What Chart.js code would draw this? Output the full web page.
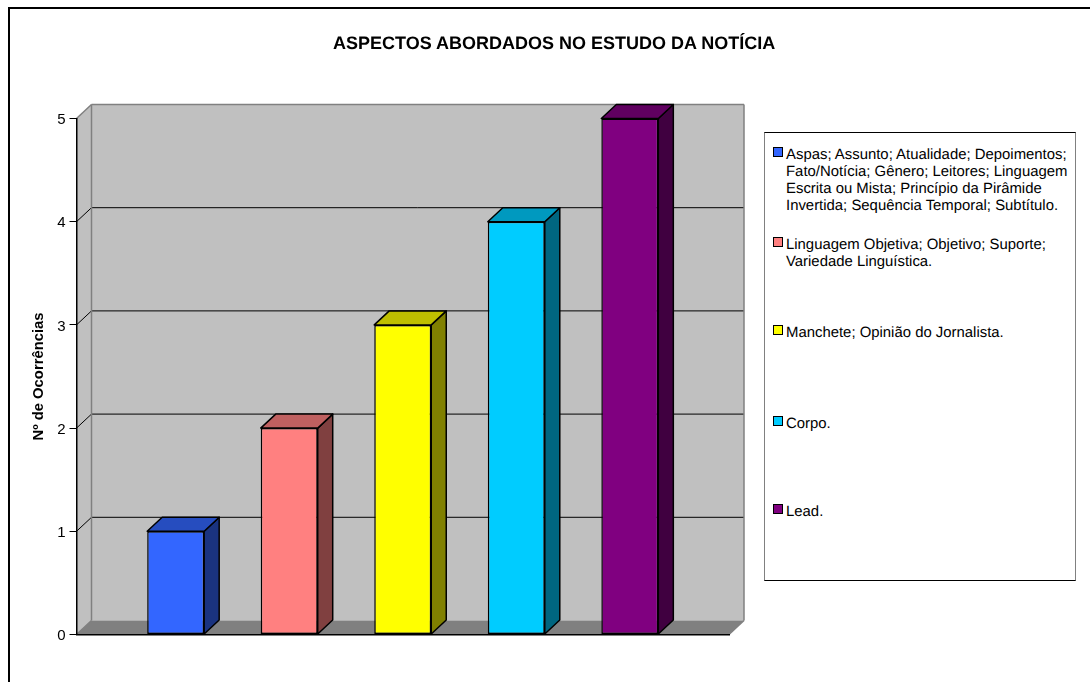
<!DOCTYPE html>
<html>
<head>
<meta charset="utf-8">
<style>
  html, body { margin: 0; padding: 0; background: #fff; overflow: hidden; }
  #wrap { position: relative; width: 1090px; height: 682px; font-family: "Liberation Sans", Arial, sans-serif; color: #000; text-rendering: geometricPrecision; }
  #frame { position: absolute; left: 8px; top: 7px; right: 0; bottom: 0; border-left: 2px solid #000; border-top: 2px solid #000; }
  canvas { position: absolute; left: 0; top: 0; }
  #title { position: absolute; left: 333px; top: 33px; font-size: 18px; font-weight: bold; white-space: nowrap; }
  #legend { position: absolute; left: 764px; top: 132px; width: 310px; height: 447px; border: 1px solid #000; border-right-color: #808080; border-left-color: #808080; background: #fff; }
  .swatch { position: absolute; left: 8px; width: 8px; height: 8px; border: 1px solid #000; }
  .item { position: absolute; left: 21px; font-size: 14.9px; line-height: 17px; white-space: nowrap; }
</style>
</head>
<body>
<div id="wrap">
  <div id="frame"></div>
  <canvas id="chart" width="1090" height="682"></canvas>
  <div id="title"></div>
  <div id="legend"></div>
</div>
<script src="https://cdn.jsdelivr.net/npm/chart.js@4"></script>
<script>
const chartTitle = "ASPECTOS ABORDADOS NO ESTUDO DA NOTÍCIA";
const axisTitle = "Nº de Ocorrências";
const categories = [""];
const seriesValues = [1, 2, 3, 4, 5];
const seriesLines = [
  ["Aspas; Assunto; Atualidade; Depoimentos;", "Fato/Notícia; Gênero; Leitores; Linguagem", "Escrita ou Mista; Princípio da Pirâmide", "Invertida; Sequência Temporal; Subtítulo."],
  ["Linguagem Objetiva; Objetivo; Suporte;", "Variedade Linguística."],
  ["Manchete; Opinião do Jornalista."],
  ["Corpo."],
  ["Lead."]
];
const seriesColors = ["#3366FF", "#FF8080", "#FFFF00", "#00CCFF", "#800080"];
const legendTops = [12, 102, 190, 281, 369];

const depthX = 15;
const depthY = 14;
const wallGrey = "#C0C0C0";
const edgeGrey = "#808080";

function shade(hex, f) {
  const n = parseInt(hex.slice(1), 16);
  const r = Math.round((n >> 16 & 255) * f);
  const g = Math.round((n >> 8 & 255) * f);
  const b = Math.round((n & 255) * f);
  return `rgb(${r},${g},${b})`;
}

function poly(ctx, pts, fill, stroke, lw) {
  ctx.beginPath();
  pts.forEach((p, i) => (i ? ctx.lineTo(p[0], p[1]) : ctx.moveTo(p[0], p[1])));
  ctx.closePath();
  ctx.fillStyle = fill;
  ctx.fill();
  if (stroke) {
    ctx.strokeStyle = stroke;
    ctx.lineWidth = lw;
    ctx.stroke();
  }
}

function seg(ctx, x1, y1, x2, y2, color, lw) {
  ctx.beginPath();
  ctx.moveTo(x1, y1);
  ctx.lineTo(x2, y2);
  ctx.strokeStyle = color;
  ctx.lineWidth = lw;
  ctx.stroke();
}

// back wall, left wall and floor, placed from the chart's own scales
const wallsPlugin = {
  id: "walls",
  beforeDraw(chart) {
    const { ctx, chartArea: a, scales } = chart;
    const y = scales.y;
    ctx.save();
    poly(ctx, [[a.left + depthX, a.top - depthY], [a.right + depthX, a.top - depthY], [a.right + depthX, a.bottom - depthY], [a.left + depthX, a.bottom - depthY]], wallGrey);
    poly(ctx, [[a.left, a.top], [a.left + depthX, a.top - depthY], [a.left + depthX, a.bottom - depthY], [a.left, a.bottom]], wallGrey);
    poly(ctx, [[a.left, a.bottom], [a.left + depthX, a.bottom - depthY], [a.right + depthX, a.bottom - depthY], [a.right, a.bottom]], edgeGrey);
    y.ticks.forEach(t => {
      if (t.value === y.min || t.value === y.max) return;
      const py = y.getPixelForValue(t.value);
      seg(ctx, a.left, py, a.left + depthX, py - depthY, "#000", 1);
      seg(ctx, a.left + depthX, py - depthY, a.right + depthX, py - depthY, "#000", 1);
    });
    seg(ctx, a.left, a.top, a.left + depthX, a.top - depthY, edgeGrey, 1.5);
    seg(ctx, a.left + depthX, a.top - depthY, a.right + depthX, a.top - depthY, edgeGrey, 1.5);
    seg(ctx, a.left + depthX, a.top - depthY, a.left + depthX, a.bottom - depthY, edgeGrey, 1.5);
    seg(ctx, a.right + depthX, a.top - depthY, a.right + depthX, a.bottom - depthY, edgeGrey, 1.5);
    seg(ctx, a.left, a.bottom, a.left + depthX, a.bottom - depthY, edgeGrey, 1.5);
    seg(ctx, a.right, a.bottom, a.right + depthX, a.bottom - depthY, edgeGrey, 1.5);
    ctx.restore();
  },
  // side and top faces of each bar
  beforeDatasetsDraw(chart) {
    const { ctx } = chart;
    ctx.save();
    ctx.lineJoin = "round";
    chart.data.datasets.forEach((ds, i) => {
      const bar = chart.getDatasetMeta(i).data[0];
      const left = bar.x - bar.width / 2;
      const right = bar.x + bar.width / 2;
      poly(ctx, [[right, bar.y], [right + depthX, bar.y - depthY], [right + depthX, bar.base - depthY], [right, bar.base]], shade(ds.backgroundColor, 0.5), "#000", 1.5);
      poly(ctx, [[left, bar.y], [left + depthX, bar.y - depthY], [right + depthX, bar.y - depthY], [right, bar.y]], shade(ds.backgroundColor, 0.75), "#000", 1.5);
    });
    ctx.restore();
  }
};

document.getElementById("title").textContent = chartTitle;

const legendEl = document.getElementById("legend");
seriesLines.forEach((lines, i) => {
  const sw = document.createElement("div");
  sw.className = "swatch";
  sw.style.top = (legendTops[i] + 2) + "px";
  sw.style.background = seriesColors[i];
  legendEl.appendChild(sw);
  const item = document.createElement("div");
  item.className = "item";
  item.style.top = (legendTops[i] + 2) + "px";
  item.innerHTML = lines.join("<br>");
  legendEl.appendChild(item);
});

new Chart(document.getElementById("chart").getContext("2d"), {
  type: "bar",
  plugins: [wallsPlugin],
  data: {
    labels: categories,
    datasets: seriesValues.map((v, i) => ({
      label: seriesLines[i].join(" "),
      data: [v],
      backgroundColor: seriesColors[i],
      borderColor: "#000",
      borderWidth: 1.5,
      borderSkipped: false,
      barPercentage: 0.502,
      categoryPercentage: 0.87
    }))
  },
  options: {
    responsive: false,
    animation: false,
    events: [],
    layout: { padding: { left: 0, right: 361, top: 118.5, bottom: 47.5 } },
    plugins: {
      legend: { display: false },
      title: { display: false },
      tooltip: { enabled: false }
    },
    scales: {
      x: {
        ticks: { display: false },
        grid: { display: false },
        border: { display: true, color: "#000", width: 1.5 },
        afterFit(s) { s.height = 0; }
      },
      y: {
        min: 0,
        max: 5,
        ticks: {
          stepSize: 1,
          color: "#000",
          padding: 4,
          labelOffset: 1.5,
          font: { family: "Liberation Sans", size: 15 }
        },
        grid: { drawOnChartArea: false, drawTicks: true, tickLength: 7, color: "#000", tickColor: "#000" },
        border: { display: true, color: "#000", width: 1.5 },
        title: {
          display: true,
          text: axisTitle,
          color: "#000",
          padding: { top: 30, bottom: 0 },
          font: { family: "Liberation Sans", size: 14.8, weight: "bold" }
        },
        afterFit(s) { s.width = 76.5; }
      }
    }
  }
});
</script>
</body>
</html>
